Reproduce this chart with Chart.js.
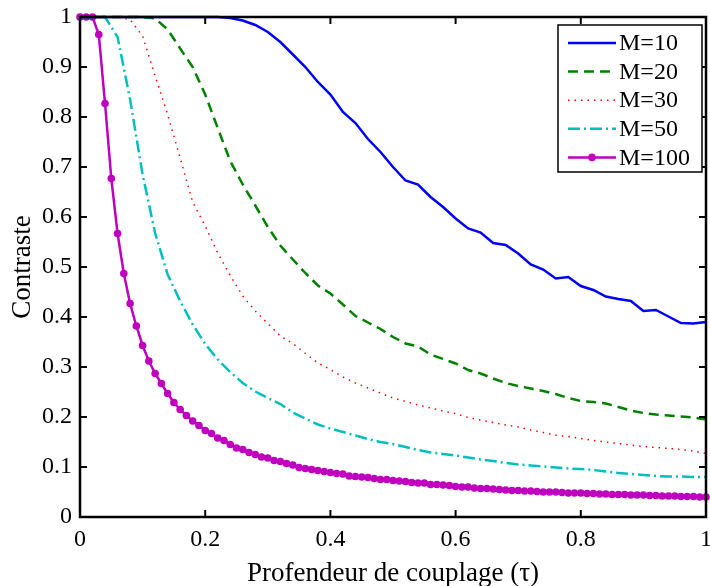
<!DOCTYPE html>
<html>
<head>
<meta charset="utf-8">
<script src="https://cdn.jsdelivr.net/npm/chart.js@4/dist/chart.umd.min.js"></script>
<style>
  body { margin: 0; background: #fff; }
  canvas { display: block; }
</style>
</head>
<body>
<canvas id="contrastChart" width="710" height="586"></canvas>
<script>
// tau sampled every 0.02 for the plain curves, every 0.01 for M=100 (markers)
var tau = [0, 0.02, 0.04, 0.06, 0.08, 0.1, 0.12, 0.14, 0.16, 0.18, 0.2, 0.22, 0.24, 0.26, 0.28, 0.3,
    0.32, 0.34, 0.36, 0.38, 0.4, 0.42, 0.44, 0.46, 0.48, 0.5, 0.52, 0.54, 0.56, 0.58, 0.6, 0.62, 0.64,
    0.66, 0.68, 0.7, 0.72, 0.74, 0.76, 0.78, 0.8, 0.82, 0.84, 0.86, 0.88, 0.9, 0.92, 0.94, 0.96, 0.98, 1];

var tau100 = [0, 0.01, 0.02, 0.03, 0.04, 0.05, 0.06, 0.07, 0.08, 0.09, 0.1, 0.11, 0.12, 0.13, 0.14, 0.15,
    0.16, 0.17, 0.18, 0.19, 0.2, 0.21, 0.22, 0.23, 0.24, 0.25, 0.26, 0.27, 0.28, 0.29, 0.3, 0.31, 0.32,
    0.33, 0.34, 0.35, 0.36, 0.37, 0.38, 0.39, 0.4, 0.41, 0.42, 0.43, 0.44, 0.45, 0.46, 0.47, 0.48, 0.49,
    0.5, 0.51, 0.52, 0.53, 0.54, 0.55, 0.56, 0.57, 0.58, 0.59, 0.6, 0.61, 0.62, 0.63, 0.64, 0.65, 0.66,
    0.67, 0.68, 0.69, 0.7, 0.71, 0.72, 0.73, 0.74, 0.75, 0.76, 0.77, 0.78, 0.79, 0.8, 0.81, 0.82, 0.83,
    0.84, 0.85, 0.86, 0.87, 0.88, 0.89, 0.9, 0.91, 0.92, 0.93, 0.94, 0.95, 0.96, 0.97, 0.98, 0.99, 1];

var m10 = [1, 1, 1, 1, 1, 1, 1, 1, 1, 1, 1, 1, 0.998, 0.993, 0.984, 0.970, 0.950, 0.925, 0.900, 0.870,
    0.845, 0.810, 0.788, 0.756, 0.730, 0.700, 0.673, 0.665, 0.640, 0.620, 0.597, 0.577, 0.569, 0.548,
    0.544, 0.527, 0.505, 0.495, 0.477, 0.480, 0.462, 0.454, 0.441, 0.436, 0.432, 0.412, 0.414, 0.401,
    0.388, 0.387, 0.390];

var m20 = [1, 1, 1, 1, 1, 1, 0.997, 0.975, 0.937, 0.900, 0.845, 0.778, 0.712, 0.665, 0.623, 0.580,
    0.543, 0.515, 0.488, 0.463, 0.447, 0.425, 0.402, 0.389, 0.376, 0.360, 0.347, 0.341, 0.325, 0.316,
    0.307, 0.294, 0.287, 0.277, 0.268, 0.262, 0.257, 0.252, 0.246, 0.238, 0.232, 0.230, 0.227, 0.220,
    0.213, 0.208, 0.205, 0.203, 0.201, 0.199, 0.195];

var m30 = [1, 1, 1, 1, 0.995, 0.962, 0.882, 0.805, 0.718, 0.630, 0.582, 0.528, 0.483, 0.442, 0.412,
    0.387, 0.362, 0.347, 0.327, 0.308, 0.295, 0.280, 0.268, 0.258, 0.248, 0.238, 0.231, 0.224, 0.218,
    0.212, 0.207, 0.199, 0.194, 0.189, 0.184, 0.180, 0.174, 0.169, 0.164, 0.161, 0.157, 0.153, 0.150,
    0.147, 0.144, 0.141, 0.139, 0.137, 0.135, 0.132, 0.127];

var m50 = [1, 1, 1, 0.960, 0.835, 0.685, 0.568, 0.485, 0.432, 0.385, 0.346, 0.315, 0.290, 0.268,
    0.251, 0.238, 0.226, 0.209, 0.197, 0.185, 0.177, 0.170, 0.163, 0.156, 0.150, 0.146, 0.140, 0.134,
    0.129, 0.126, 0.123, 0.119, 0.115, 0.112, 0.108, 0.105, 0.103, 0.101, 0.099, 0.097, 0.096, 0.094,
    0.091, 0.088, 0.086, 0.084, 0.082, 0.081, 0.081, 0.080, 0.080];

var m100 = [1, 1, 1, 0.965, 0.827, 0.677, 0.567, 0.487, 0.427, 0.382, 0.343, 0.312, 0.287, 0.267,
    0.247, 0.229, 0.215, 0.203, 0.192, 0.183, 0.173, 0.167, 0.158, 0.153, 0.145, 0.138, 0.135, 0.129,
    0.125, 0.120, 0.118, 0.113, 0.111, 0.107, 0.104, 0.099, 0.097, 0.095, 0.093, 0.091, 0.089, 0.087,
    0.086, 0.082, 0.081, 0.080, 0.079, 0.077, 0.075, 0.075, 0.073, 0.072, 0.071, 0.069, 0.068, 0.068,
    0.065, 0.065, 0.064, 0.063, 0.061, 0.060, 0.060, 0.058, 0.057, 0.057, 0.056, 0.055, 0.054, 0.053,
    0.053, 0.052, 0.052, 0.051, 0.050, 0.050, 0.050, 0.049, 0.048, 0.048, 0.048, 0.047, 0.047, 0.046,
    0.046, 0.045, 0.045, 0.045, 0.044, 0.044, 0.044, 0.043, 0.043, 0.042, 0.042, 0.042, 0.041, 0.041,
    0.041, 0.040, 0.040];

var seriesLabels = ['M=10', 'M=20', 'M=30', 'M=50', 'M=100'];
var xTickLabels = ['0', '0.2', '0.4', '0.6', '0.8', '1'];
var yTickLabels = ['0', '0.1', '0.2', '0.3', '0.4', '0.5', '0.6', '0.7', '0.8', '0.9', '1'];

var serif = "'Liberation Serif', 'Times New Roman', serif";

function points(xs, ys) {
    return xs.map(function (x, i) { return {x: x, y: ys[i]}; });
}

function line(label, xs, ys, color, width, dash) {
    return {
        label: label,
        data: points(xs, ys),
        borderColor: color,
        backgroundColor: color,
        borderWidth: width,
        borderDash: dash,
        pointRadius: 0,
        tension: 0,
        clip: false
    };
}

var datasets = [
    line(seriesLabels[0], tau, m10, '#0000ff', 2.5, []),
    line(seriesLabels[1], tau, m20, '#008000', 2.5, [10, 6]),
    line(seriesLabels[2], tau, m30, '#ff0000', 1.5, [1.5, 5]),
    line(seriesLabels[3], tau, m50, '#00bfbf', 2.5, [12, 4, 2, 4]),
    line(seriesLabels[4], tau100, m100, '#bf00bf', 2.5, [])
];
datasets[4].pointRadius = 3.8;
datasets[4].pointBorderWidth = 0;

// box, inward ticks on all four sides, legend drawn inside the top right corner
var frame = {
    id: 'frame',
    afterDatasetsDraw: function (chart) {
        var ctx = chart.ctx, a = chart.chartArea;
        var xs = chart.scales.x, ys = chart.scales.y, len = 7;
        ctx.save();
        ctx.strokeStyle = '#000';
        ctx.lineWidth = 2.5;
        ctx.strokeRect(a.left, a.top, a.right - a.left, a.bottom - a.top);
        ctx.lineWidth = 2;
        ctx.beginPath();
        xs.ticks.forEach(function (t) {
            var px = xs.getPixelForValue(t.value);
            ctx.moveTo(px, a.bottom); ctx.lineTo(px, a.bottom - len);
            ctx.moveTo(px, a.top); ctx.lineTo(px, a.top + len);
        });
        ys.ticks.forEach(function (t) {
            var py = ys.getPixelForValue(t.value);
            ctx.moveTo(a.left, py); ctx.lineTo(a.left + len, py);
            ctx.moveTo(a.right, py); ctx.lineTo(a.right - len, py);
        });
        ctx.stroke();
        ctx.restore();
    },
    afterDraw: function (chart) {
        var ctx = chart.ctx;
        var bx = 558, by = 25, bw = 144, bh = 147, rowH = 28.6;
        ctx.save();
        ctx.fillStyle = '#fff';
        ctx.fillRect(bx, by, bw, bh);
        ctx.strokeStyle = '#000';
        ctx.lineWidth = 1.5;
        ctx.strokeRect(bx, by, bw, bh);
        ctx.font = '24px ' + serif;
        ctx.textBaseline = 'middle';
        chart.data.datasets.forEach(function (ds, i) {
            var y = by + 18 + i * rowH;
            ctx.strokeStyle = ds.borderColor;
            ctx.lineWidth = ds.borderWidth;
            ctx.setLineDash(ds.borderDash);
            ctx.beginPath();
            ctx.moveTo(568, y); ctx.lineTo(616, y);
            ctx.stroke();
            ctx.setLineDash([]);
            if (ds.pointRadius) {
                ctx.fillStyle = ds.borderColor;
                ctx.beginPath();
                ctx.arc(592, y, ds.pointRadius, 0, Math.PI * 2);
                ctx.fill();
            }
            ctx.fillStyle = '#000';
            ctx.fillText(ds.label, 619, y + 1);
        });
        ctx.restore();
    }
};

new Chart(document.getElementById('contrastChart'), {
    type: 'line',
    data: {datasets: datasets},
    options: {
        responsive: false,
        animation: false,
        devicePixelRatio: 1,
        layout: {padding: {top: 17, right: 2, left: 0, bottom: 0}},
        plugins: {legend: {display: false}, tooltip: {enabled: false}},
        scales: {
            x: {
                type: 'linear',
                min: 0,
                max: 1,
                grid: {display: false, drawTicks: false},
                border: {display: false},
                ticks: {
                    stepSize: 0.2,
                    padding: 8,
                    maxRotation: 0,
                    color: '#000',
                    font: {family: serif, size: 24},
                    callback: function (v, i) { return xTickLabels[i]; }
                },
                title: {
                    display: true,
                    text: 'Profendeur de couplage (τ)',
                    color: '#000',
                    font: {family: serif, size: 27},
                    padding: {top: 0, bottom: -4}
                },
                afterFit: function (s) { s.height = 69; s.paddingLeft = 0; s.paddingRight = 0; }
            },
            y: {
                type: 'linear',
                min: 0,
                max: 1,
                grid: {display: false, drawTicks: false},
                border: {display: false},
                ticks: {
                    stepSize: 0.1,
                    padding: 8,
                    color: '#000',
                    font: {family: serif, size: 24},
                    callback: function (v, i) { return yTickLabels[i]; }
                },
                title: {
                    display: true,
                    text: 'Contraste',
                    color: '#000',
                    font: {family: serif, size: 27},
                    padding: {top: 7, bottom: 0}
                },
                afterFit: function (s) { s.width = 80; s.paddingTop = 0; s.paddingBottom = 0; }
            }
        }
    },
    plugins: [frame]
});
</script>
</body>
</html>
